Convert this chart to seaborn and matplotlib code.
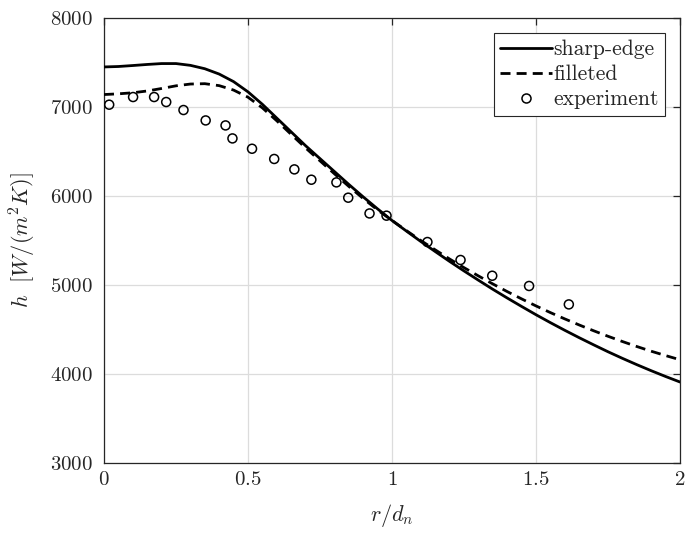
import numpy as np
import pandas as pd
import matplotlib
matplotlib.use("Agg")
import matplotlib.pyplot as plt
from matplotlib.ticker import FuncFormatter, FixedLocator
from matplotlib.lines import Line2D
import seaborn as sns

# Radial position r/d_n and heat transfer coefficient h [W/(m^2 K)]
r_sim = [0.00, 0.05, 0.10, 0.15, 0.20, 0.25, 0.30, 0.35, 0.40, 0.45,
         0.50, 0.55, 0.60, 0.65, 0.70, 0.75, 0.80, 0.85, 0.90, 0.95,
         1.00, 1.05, 1.10, 1.15, 1.20, 1.25, 1.30, 1.35, 1.40, 1.45,
         1.50, 1.55, 1.60, 1.65, 1.70, 1.75, 1.80, 1.85, 1.90, 1.95, 2.00]

h_sharp = [7450, 7455, 7466, 7478, 7488, 7488, 7468, 7430, 7370, 7285,
           7170, 7030, 6875, 6720, 6565, 6420, 6275, 6130, 5990, 5855,
           5725, 5606, 5489, 5376, 5265, 5158, 5054, 4952, 4854, 4759,
           4666, 4577, 4491, 4408, 4328, 4250, 4176, 4105, 4037, 3972, 3910]

h_fillet = [7140, 7148, 7160, 7180, 7208, 7238, 7258, 7262, 7240, 7190,
            7110, 6990, 6845, 6692, 6540, 6395, 6250, 6108, 5972, 5843,
            5725, 5611, 5500, 5395, 5292, 5195, 5102, 5012, 4926, 4844,
            4765, 4690, 4619, 4551, 4486, 4424, 4365, 4309, 4256, 4207, 4160]

r_exp = [0.018, 0.101, 0.174, 0.216, 0.276, 0.353, 0.422, 0.446, 0.514,
         0.591, 0.661, 0.720, 0.807, 0.848, 0.922, 0.981, 1.123, 1.238,
         1.348, 1.476, 1.614]
h_exp = [7026, 7112, 7112, 7056, 6966, 6849, 6793, 6647, 6531,
         6416, 6299, 6183, 6153, 5981, 5804, 5779, 5483, 5281,
         5104, 4989, 4782]

x_ticks = [0, 0.5, 1, 1.5, 2]
y_ticks = [3000, 4000, 5000, 6000, 7000, 8000]

sns.set_style("white")
plt.rcParams["mathtext.fontset"] = "cm"
plt.rcParams["font.family"] = ["cmr10", "DejaVu Serif"]
plt.rcParams["axes.unicode_minus"] = False

df_sharp = pd.DataFrame({"r": r_sim, "h": h_sharp})
df_fillet = pd.DataFrame({"r": r_sim, "h": h_fillet})
df_exp = pd.DataFrame({"r": r_exp, "h": h_exp})

fig = plt.figure(figsize=(6.86, 5.34), dpi=100)
ax = fig.add_axes([104 / 686, 1 - 463 / 534, (680 - 104) / 686, (463 - 18) / 534])

lw = 2.0
dash = (3.6, 2.2)
sns.lineplot(data=df_sharp, x="r", y="h", ax=ax, color="black", lw=lw,
             sort=False, estimator=None, zorder=3)
sns.lineplot(data=df_fillet, x="r", y="h", ax=ax, color="black", lw=lw,
             sort=False, estimator=None, zorder=3)
ax.lines[-1].set_dashes(dash)
sns.scatterplot(data=df_exp, x="r", y="h", ax=ax, marker="o", s=42,
                facecolor="none", edgecolor="black", linewidth=1.1, zorder=4)

ax.set_xlim(0, 2)
ax.set_ylim(3000, 8000)
ax.xaxis.set_major_locator(FixedLocator(x_ticks))
ax.yaxis.set_major_locator(FixedLocator(y_ticks))
fmt = FuncFormatter(lambda v, p: f"${v:g}$")
ax.xaxis.set_major_formatter(fmt)
ax.yaxis.set_major_formatter(fmt)

ax.grid(True, color="#dcdcdc", lw=0.9)
ax.set_axisbelow(True)
for s in ax.spines.values():
    s.set_visible(True)
    s.set_color("#262626")
    s.set_linewidth(0.9)
ax.tick_params(axis="both", which="both", direction="in", length=5,
               width=0.9, color="#262626", labelsize=15, top=True, right=True)
ax.tick_params(axis="x", pad=6)
ax.tick_params(axis="y", pad=8)

ax.set_xlabel(r"$r/d_n$", fontsize=16, labelpad=9)
ax.set_ylabel(r"$h\ \ [W/(m^2K)]$", fontsize=16, labelpad=9)

handles = [
    Line2D([], [], color="black", lw=lw),
    Line2D([], [], color="black", lw=lw, dashes=dash),
    Line2D([], [], color="black", marker="o", ls="none", markersize=6.5,
           markerfacecolor="none", markeredgewidth=1.1),
]
leg = ax.legend(handles, ["sharp-edge", "filleted", "experiment"],
                loc="upper right", fontsize=15.5, frameon=True, fancybox=False,
                handlelength=2.4, handletextpad=0.05, borderpad=0.3,
                labelspacing=0.26, borderaxespad=0.7, framealpha=1)
leg.get_frame().set_edgecolor("#262626")
leg.get_frame().set_linewidth(0.8)

fig.savefig("out.png", dpi=100)
